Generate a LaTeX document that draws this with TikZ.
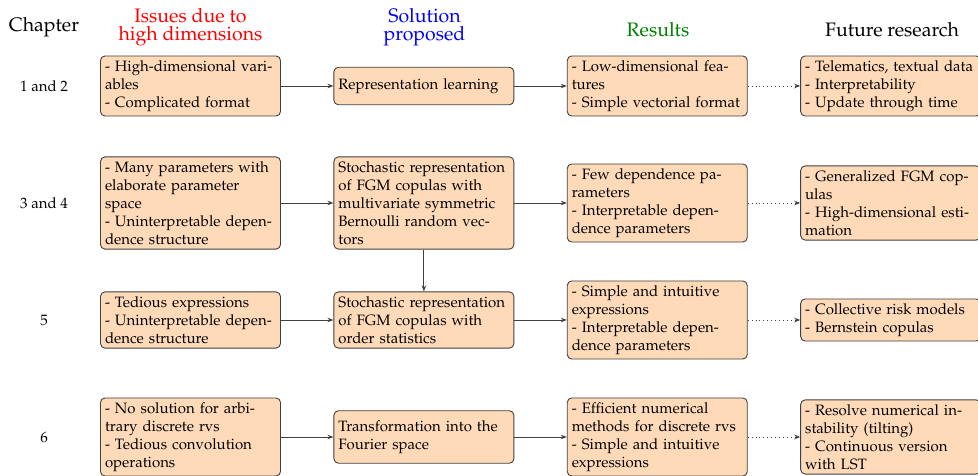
\documentclass[tikz,border=0pt]{standalone}
\usepackage[T1]{fontenc}
\usepackage{mathpazo}
\usepackage{tikz}
\usetikzlibrary{arrows.meta, positioning}
\definecolor{boxfill}{HTML}{FFDAB9}
\definecolor{boxline}{HTML}{404040}
\definecolor{issuered}{HTML}{FF0000}
\definecolor{solblue}{HTML}{0000FF}
\definecolor{resgreen}{HTML}{008000}

\begin{document}
\begin{tikzpicture}[
    x=0.6667pt, y=-0.6667pt,
    node distance=35pt,
    box/.style={
        rectangle,
        rounded corners=3pt,
        draw=boxline,
        fill=boxfill,
        line width=0.6pt,
        text width=114pt,
        inner xsep=3pt,
        inner ysep=3pt,
        align=left
    },
    head/.style={
        font=\fontsize{13}{12}\selectfont,
        align=center
    },
    solidarrow/.style={
        -{Stealth[length=4pt]},
        line width=0.6pt,
        draw=black!75
    },
    dotarrow/.style={
        -{Stealth[length=4pt]},
        line width=0.6pt,
        dotted,
        draw=black!75
    }
]
\useasboundingbox (0,0) rectangle (978,476);

% Column headers
\node[head] (hchap) at (44,27.5) {Chapter};
\node[head, text=issuered] (hissue) at (190.5,27.5) {Issues due to\\high dimensions};
\node[head, text=solblue] (hsol) at (424.5,27.5) {Solution\\proposed};
\node[head, text=resgreen] (hres) at (658,29.5) {Results};
\node[head] (hfut) at (892,29.5) {Future research};

% Chapter numbers
\node (chap1) at (44,86) {1 and 2};
\node (chap2) at (44,203) {3 and 4};
\node (chap3) at (44,320) {5};
\node (chap4) at (44,437) {6};

% Chapters 1 and 2
\node[box] (issue1) at (190.5,86) {- High-dimensional vari-\\ables\\- Complicated format};
\node[box, minimum height=25pt, right=of issue1] (sol1) {Representation learning};
\node[box, right=of sol1] (res1) {- Low-dimensional fea-\\tures\\- Simple vectorial format};
\node[box, right=of res1] (fut1) {- Telematics, textual data\\- Interpretability\\- Update through time};

% Chapters 3 and 4
\node[box] (issue2) at (190.5,203) {- Many parameters with\\elaborate parameter\\space\\- Uninterpretable depen-\\dence structure};
\node[box, right=of issue2] (sol2) {Stochastic representation\\of FGM copulas with\\multivariate symmetric\\Bernoulli random vec-\\tors};
\node[box, right=of sol2] (res2) {- Few dependence pa-\\rameters\\- Interpretable depen-\\dence parameters};
\node[box, right=of res2] (fut2) {- Generalized FGM cop-\\ulas\\- High-dimensional esti-\\mation};

% Chapter 5
\node[box] (issue3) at (190.5,320) {- Tedious expressions\\- Uninterpretable depen-\\dence structure};
\node[box, right=of issue3] (sol3) {Stochastic representation\\of FGM copulas with\\order statistics};
\node[box, right=of sol3] (res3) {- Simple and intuitive\\expressions\\- Interpretable depen-\\dence parameters};
\node[box, right=of res3] (fut3) {- Collective risk models\\- Bernstein copulas};

% Chapter 6
\node[box] (issue4) at (190.5,437) {- No solution for arbi-\\trary discrete rvs\\- Tedious convolution\\operations};
\node[box, minimum height=35pt, right=of issue4] (sol4) {Transformation into the\\Fourier space};
\node[box, right=of sol4] (res4) {- Efficient numerical\\methods for discrete rvs\\- Simple and intuitive\\expressions};
\node[box, right=of res4] (fut4) {- Resolve numerical in-\\stability (tilting)\\- Continuous version\\with LST};

% Arrows
\foreach \r in {1,2,3,4} {
    \draw[solidarrow] (issue\r) -- (sol\r);
    \draw[solidarrow] (sol\r) -- (res\r);
    \draw[dotarrow] (res\r) -- (fut\r);
}
\draw[solidarrow] (sol2) -- (sol3);

\end{tikzpicture}
\end{document}
